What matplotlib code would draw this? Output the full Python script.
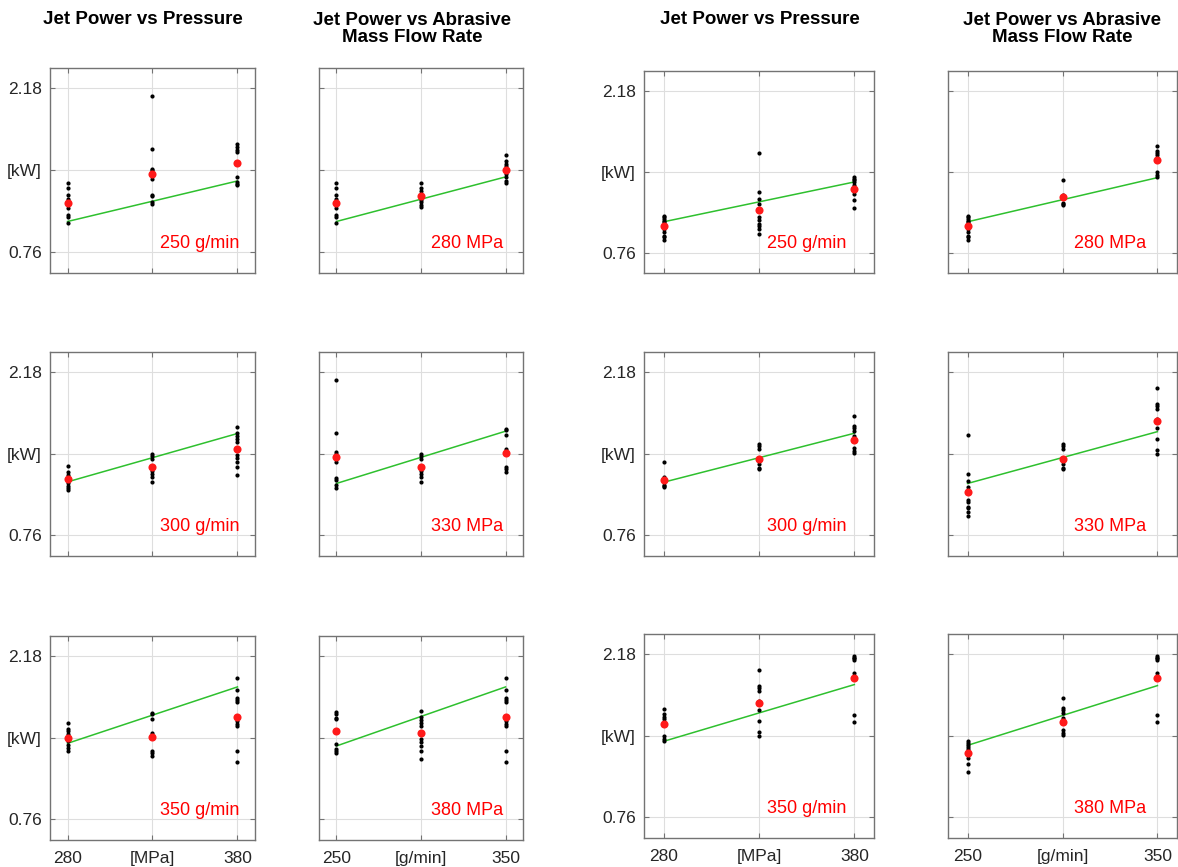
import matplotlib
matplotlib.use("Agg")
import matplotlib.pyplot as plt

plt.rcParams['font.family'] = ['Liberation Sans', 'DejaVu Sans']

pressure = [280, 330, 380]      # MPa
flow = [250, 300, 350]          # g/min
y_ticks = [0.76, 1.47, 2.18]
y_tick_labels = ['0.76', '[kW]', '2.18']
p_tick_labels = ['280', '[MPa]', '380']
f_tick_labels = ['250', '[g/min]', '350']

# left block: measured jet power [kW] for (pressure, flow)
L_280_250 = [1.363, 1.316, 1.258, 1.218, 1.145, 1.079, 1.064, 1.015]
L_330_250 = [2.113, 1.653, 1.484, 1.470, 1.441, 1.398, 1.258, 1.244, 1.195, 1.174]
L_380_250 = [1.696, 1.673, 1.644, 1.629, 1.412, 1.369, 1.354, 1.340]
L_280_300 = [1.363, 1.314, 1.286, 1.258, 1.229, 1.212, 1.192, 1.170, 1.155]
L_330_300 = [1.470, 1.450, 1.427, 1.363, 1.320, 1.291, 1.268, 1.225]
L_380_300 = [1.706, 1.647, 1.626, 1.600, 1.575, 1.462, 1.435, 1.398, 1.355, 1.283]
L_280_350 = [1.600, 1.546, 1.525, 1.505, 1.470, 1.440, 1.410, 1.380, 1.358]
L_330_350 = [1.687, 1.672, 1.635, 1.508, 1.490, 1.354, 1.334, 1.311]
L_380_350 = [1.990, 1.883, 1.817, 1.796, 1.779, 1.615, 1.586, 1.571, 1.354, 1.259]
# means, rows = pressure, cols = flow
L_mean = [[1.189, 1.246, 1.468],
          [1.440, 1.355, 1.476],
          [1.532, 1.507, 1.649]]
# model line end values: vs pressure (one per flow), vs flow (one per pressure)
L_fit_p = [[1.026, 1.377], [1.225, 1.646], [1.421, 1.912]]
L_fit_f = [[1.026, 1.412], [1.211, 1.666], [1.398, 1.912]]

# right block
R_280_250 = [1.082, 1.068, 1.053, 1.039, 1.024, 1.010, 0.966, 0.936, 0.907, 0.893, 0.872]
R_330_250 = [1.637, 1.296, 1.230, 1.184, 1.070, 1.048, 1.010, 0.997, 0.963, 0.927]
R_380_250 = [1.422, 1.408, 1.393, 1.376, 1.351, 1.300, 1.275, 1.222, 1.151]
R_280_300 = [1.396, 1.266, 1.255, 1.247, 1.240, 1.196, 1.185, 1.178]
R_330_300 = [1.552, 1.537, 1.514, 1.435, 1.406, 1.377, 1.348, 1.333]
R_380_300 = [1.796, 1.712, 1.693, 1.665, 1.627, 1.610, 1.518, 1.496, 1.479]
R_280_350 = [1.699, 1.655, 1.635, 1.614, 1.590, 1.466, 1.444, 1.425]
R_330_350 = [2.041, 1.901, 1.882, 1.860, 1.775, 1.747, 1.692, 1.598, 1.504, 1.467]
R_380_350 = [2.160, 2.150, 2.144, 2.128, 2.020, 1.648, 1.592]
R_mean = [[0.989, 1.245, 1.576],
          [1.135, 1.426, 1.751],
          [1.320, 1.592, 1.976]]
R_fit_p = [[1.030, 1.380], [1.222, 1.648], [1.421, 1.915]]
R_fit_f = [[1.030, 1.418], [1.211, 1.662], [1.386, 1.906]]

L_pts = [[L_280_250, L_280_300, L_280_350],
         [L_330_250, L_330_300, L_330_350],
         [L_380_250, L_380_300, L_380_350]]
R_pts = [[R_280_250, R_280_300, R_280_350],
         [R_330_250, R_330_300, R_330_350],
         [R_380_250, R_380_300, R_380_350]]

W, H = 1178, 867
fig = plt.figure(figsize=(W / 100, H / 100), dpi=100)

TXT = '#262626'
SPINE = '#737373'


def make_ax(x0, x1, y0, y1):
    return fig.add_axes([x0 / W, 1 - y1 / H, (x1 - x0) / W, (y1 - y0) / H])


def panel(ax, xs, groups, means, fit, label, xlabels, show_y, show_x, txt_frac):
    for x, g in zip(xs, groups):
        ax.scatter([x] * len(g), g, s=9, color='black', zorder=3, linewidths=0)
    ax.plot([xs[0], xs[-1]], fit, color='#2ec02e', lw=1.1, zorder=2)
    ax.scatter(xs, means, s=34, color='#ff1a1a', zorder=4, linewidths=0)
    ax.set_xlim(xs[0] - 10.3, xs[-1] + 10.3)
    ax.set_ylim(0.58, 2.355)
    ax.set_xticks(xs)
    ax.set_yticks(y_ticks)
    ax.set_xticklabels(xlabels if show_x else [])
    ax.set_yticklabels(y_tick_labels if show_y else [])
    ax.grid(True, color='#dedede', lw=0.8)
    ax.set_axisbelow(True)
    ax.tick_params(direction='in', length=3.5, width=0.8, color=SPINE,
                   labelsize=12.5, labelcolor=TXT, top=True, right=True)
    ax.tick_params(axis='x', pad=16.5)
    ax.tick_params(axis='y', pad=6)
    # line the x labels up on a common baseline, brackets included
    for t in ax.get_xticklabels():
        t.set_verticalalignment('baseline')
    for s in ax.spines.values():
        s.set_color(SPINE)
        s.set_linewidth(1.0)
    ax.text(txt_frac, 0.835, label, transform=ax.get_yaxis_transform(),
            color='#ff0000', fontsize=13, va='center', ha='left')


blocks = [
    # pts, means, fits, column x ranges, row y ranges
    (L_pts, L_mean, L_fit_p, L_fit_f, [(50, 255), (319, 523)],
     [(68, 273), (352, 556), (636, 840)]),
    (R_pts, R_mean, R_fit_p, R_fit_f, [(644, 874), (948, 1177)],
     [(71, 273), (352, 556), (634, 838)]),
]

for pts, mean, fit_p, fit_f, cols, rows in blocks:
    for i in range(3):
        y0, y1 = rows[i]
        show_x = (i == 2)
        # jet power vs pressure, at flow[i]
        ax = make_ax(cols[0][0], cols[0][1], y0, y1)
        groups = [pts[k][i] for k in range(3)]
        means = [mean[k][i] for k in range(3)]
        panel(ax, pressure, groups, means, fit_p[i], f'{flow[i]} g/min',
              p_tick_labels, True, show_x, 0.535)
        # jet power vs abrasive flow, at pressure[i]
        ax = make_ax(cols[1][0], cols[1][1], y0, y1)
        panel(ax, flow, pts[i], mean[i], fit_f[i], f'{pressure[i]} MPa',
              f_tick_labels, False, show_x, 0.55)

# column titles
title_kw = dict(fontsize=13.5, fontweight='bold', color='black',
                ha='center', va='center', linespacing=1.0)
fig.text(143 / W, 1 - 19 / H, 'Jet Power vs Pressure', **title_kw)
fig.text(412 / W, 1 - 29 / H, 'Jet Power vs Abrasive\nMass Flow Rate', **title_kw)
fig.text(760 / W, 1 - 20 / H, 'Jet Power vs Pressure', **title_kw)
fig.text(1062 / W, 1 - 29 / H, 'Jet Power vs Abrasive\nMass Flow Rate', **title_kw)

fig.savefig('out.png', dpi=100, facecolor='white')
